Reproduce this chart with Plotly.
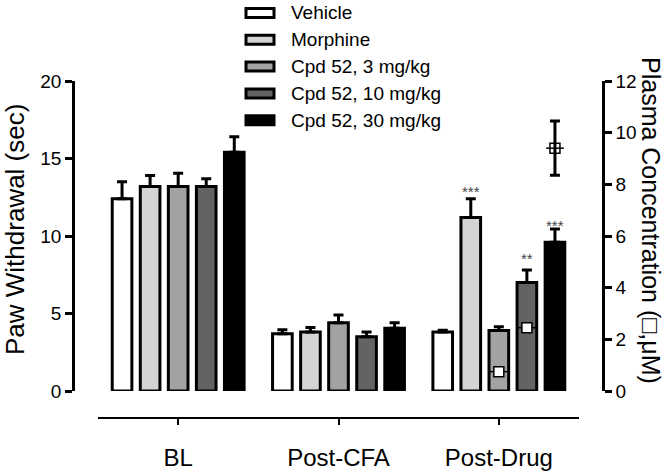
import plotly.graph_objects as go

# ---------------- data ----------------
categories = ["BL", "Post-CFA", "Post-Drug"]
series_names = ["Vehicle", "Morphine", "Cpd 52, 3 mg/kg", "Cpd 52, 10 mg/kg", "Cpd 52, 30 mg/kg"]

vehicle_mean = [12.4, 3.7, 3.8]
vehicle_sem = [1.1, 0.25, 0.12]
morphine_mean = [13.2, 3.8, 11.2]
morphine_sem = [0.7, 0.3, 1.2]
cpd3_mean = [13.2, 4.4, 3.9]
cpd3_sem = [0.85, 0.5, 0.25]
cpd10_mean = [13.2, 3.5, 7.0]
cpd10_sem = [0.5, 0.3, 0.8]
cpd30_mean = [15.4, 4.05, 9.6]
cpd30_sem = [1.0, 0.35, 0.85]

# plasma concentration (uM) measured post-drug for Cpd 52 doses
plasma_series = [2, 3, 4]          # index into series_names
plasma_conc = [0.75, 2.45, 9.4]
plasma_sem = [0.05, 0.12, 1.05]

# significance marks (post-drug)
sig_series = [1, 3, 4]
sig_text = ["***", "**", "***"]
sig_y = [13.15, 8.8, 10.95]

y_ticks = [0, 5, 10, 15, 20]
y2_ticks = [0, 2, 4, 6, 8, 10, 12]

means = [vehicle_mean, morphine_mean, cpd3_mean, cpd10_mean, cpd30_mean]
sems = [vehicle_sem, morphine_sem, cpd3_sem, cpd10_sem, cpd30_sem]
fills = ["#ffffff", "#d4d4d4", "#a2a2a2", "#636363", "#000000"]

# ---------------- layout geometry ----------------
W, H = 666, 473
L, R, T, B = 73, 603, 81, 418  # plot area in pixels
FONT = "Arial, Liberation Sans, sans-serif"
bargap = 0.125
nser = len(series_names)
slot = (1 - bargap) / nser


def px_x(p):
    return (p - L) / (R - L)


def px_y(p):
    return (B - p) / (B - T)


fig = go.Figure()
xpos = list(range(len(categories)))
for i in range(nser):
    fig.add_trace(go.Bar(
        x=xpos, y=means[i], name=series_names[i],
        marker=dict(color=fills[i], line=dict(color="black", width=3)),
        error_y=dict(type="data", array=sems[i], arrayminus=[0] * len(xpos),
                     symmetric=False, color="black", thickness=3, width=5),
        showlegend=False,
    ))

# plasma concentration markers on right axis
post_drug = categories.index("Post-Drug")
px_pos = [post_drug + (s - (nser - 1) / 2) * slot for s in plasma_series]
fig.add_trace(go.Scatter(
    x=px_pos, y=plasma_conc, yaxis="y2", mode="markers",
    marker=dict(symbol=["square", "square", "square-open"], size=10,
                color=["white", "white", "black"],
                line=dict(color="black", width=1.5)),
    error_y=dict(type="data", array=plasma_sem, color="black", thickness=3, width=5),
    error_x=dict(type="constant", value=0.055, color="black", thickness=1.5, width=0),
    showlegend=False,
))

annotations = []
for s, txt, yv in zip(sig_series, sig_text, sig_y):
    annotations.append(dict(
        x=post_drug + (s - (nser - 1) / 2) * slot, y=yv, xref="x", yref="y",
        text=txt, showarrow=False, font=dict(family=FONT, size=15, color="#444444"),
        xanchor="center", yanchor="middle", yshift=-4))

# axis titles
annotations.append(dict(x=px_x(15), y=px_y(230), xref="paper", yref="paper",
                        text="Paw Withdrawal (sec)", textangle=-90, showarrow=False,
                        font=dict(family=FONT, size=26, color="black"),
                        xanchor="center", yanchor="middle"))
annotations.append(dict(x=px_x(651), y=px_y(220), xref="paper", yref="paper",
                        text="Plasma Concentration (\u25a1,\u03bcM)", textangle=90, showarrow=False,
                        font=dict(family=FONT, size=25, color="black"),
                        xanchor="center", yanchor="middle"))

# custom legend
shapes = []
leg_y0 = 13
leg_dy = 26.8
for i, name in enumerate(series_names):
    cy = leg_y0 + i * leg_dy
    shapes.append(dict(type="rect", xref="paper", yref="paper",
                       x0=px_x(246), x1=px_x(274), y0=px_y(cy - 4.5), y1=px_y(cy + 4.5),
                       fillcolor=fills[i], line=dict(color="black", width=3)))
    annotations.append(dict(x=px_x(289), y=px_y(cy), xref="paper", yref="paper",
                            text=name, showarrow=False, xanchor="left", yanchor="middle",
                            font=dict(family=FONT, size=19, color="black")))

fig.update_layout(
    width=W, height=H,
    margin=dict(l=L, r=W - R, t=T, b=H - B, pad=0, autoexpand=False),
    paper_bgcolor="white", plot_bgcolor="white",
    barmode="group", bargap=bargap, bargroupgap=0.3,
    font=dict(family=FONT, color="black"),
    xaxis=dict(domain=[px_x(98), px_x(579)], range=[-0.5, 2.5],
               tickvals=xpos, ticktext=categories,
               anchor="free", position=0, automargin=False,
               showline=True, linecolor="black", linewidth=2,
               ticks="outside", ticklen=6, tickwidth=2, tickcolor="black",
               showgrid=False, zeroline=False,
               tickfont=dict(family=FONT, size=24, color="black"),
               ticklabelstandoff=12),
    yaxis=dict(domain=[px_y(391), 1], range=[0, 20], tickvals=y_ticks,
               anchor="free", position=0, automargin=False,
               showline=True, linecolor="black", linewidth=2.5,
               ticks="outside", ticklen=7, tickwidth=2.5, tickcolor="black",
               showgrid=False, zeroline=False,
               tickfont=dict(family=FONT, size=19, color="black")),
    yaxis2=dict(domain=[px_y(391), 1], range=[0, 12], tickvals=y2_ticks,
                overlaying="y", side="right", anchor="free", position=1, automargin=False,
                showline=True, linecolor="black", linewidth=2.5,
                ticks="outside", ticklen=7, tickwidth=2.5, tickcolor="black",
                showgrid=False, zeroline=False,
                tickfont=dict(family=FONT, size=19, color="black")),
    shapes=shapes,
    annotations=annotations,
)

fig.write_html("out.html", config={"displayModeBar": False},
               post_script="document.body.style.margin='0';document.body.style.overflow='hidden';")
